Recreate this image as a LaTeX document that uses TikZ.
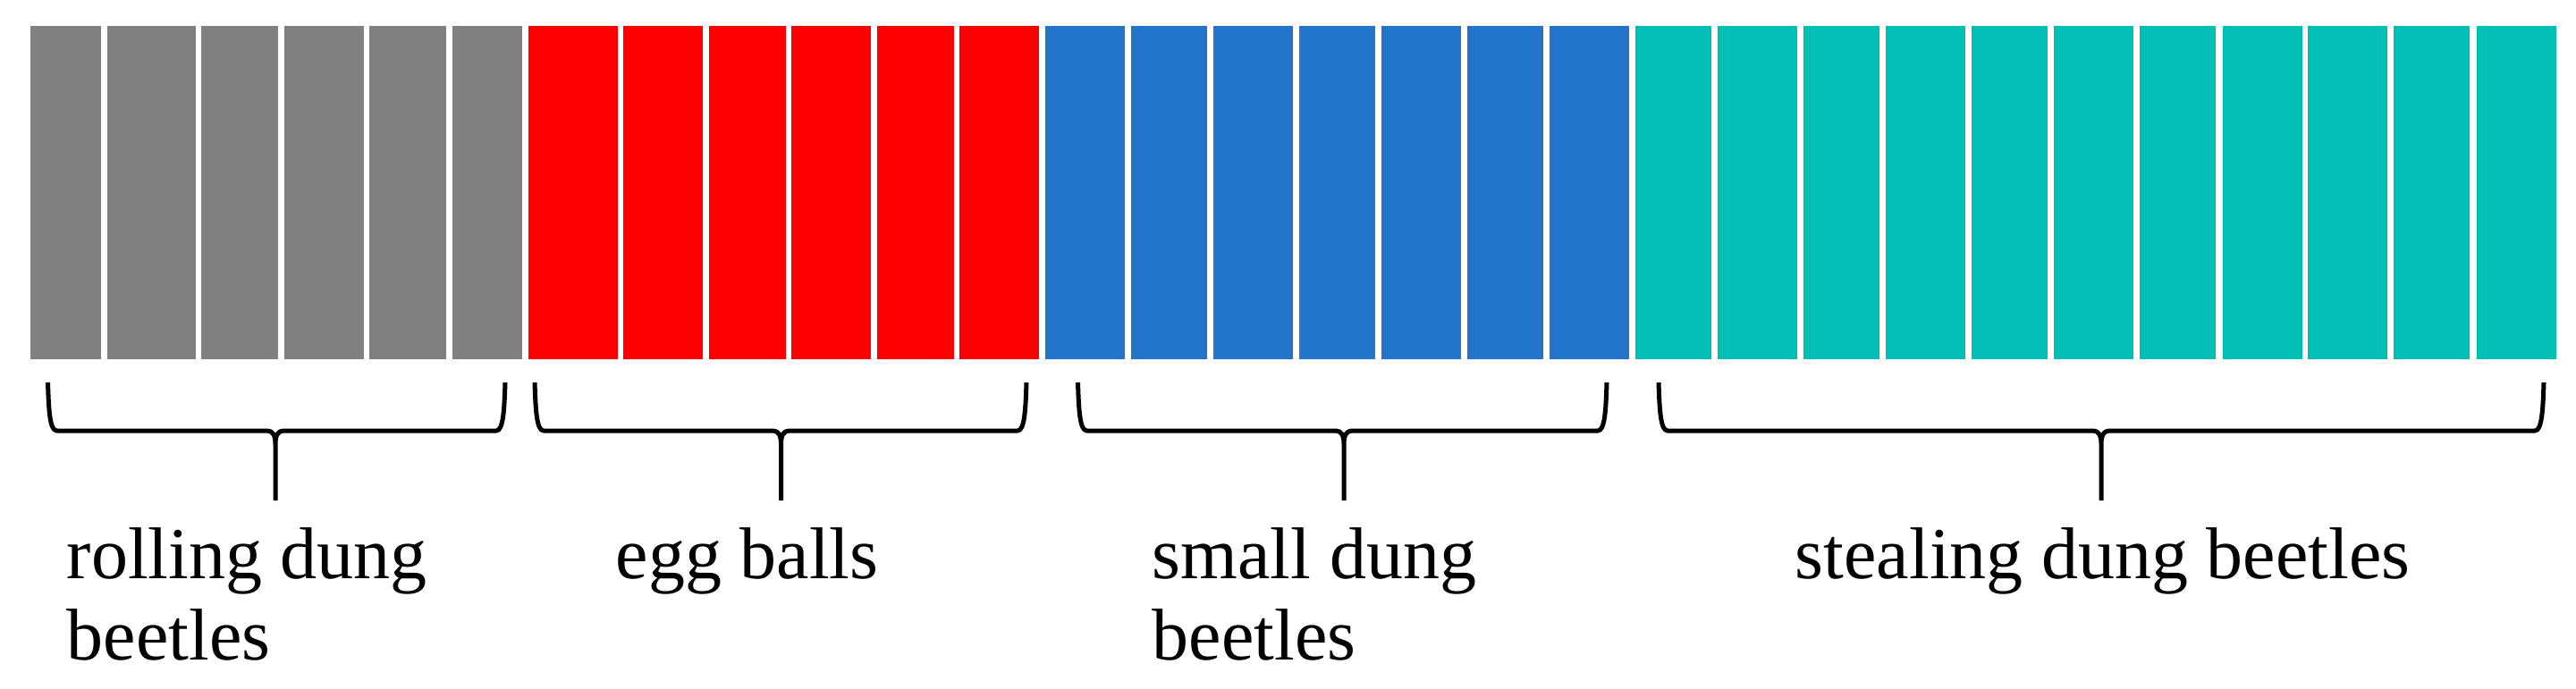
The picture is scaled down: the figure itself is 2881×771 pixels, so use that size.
\documentclass[tikz,border=0pt]{standalone}
\usepackage{fontspec}
\setmainfont{Liberation Serif}
\definecolor{bgray}{RGB}{128,128,128}
\definecolor{bred}{RGB}{255,0,0}
\definecolor{bblue}{RGB}{35,117,204}
\definecolor{bteal}{RGB}{0,192,182}
\tikzset{
  brc/.style={line width=1.25pt, black, line join=round},
  lbl/.style={anchor=north west, inner sep=0pt, align=left, font=\fontsize{20.5pt}{22.75pt}\selectfont}
}
\newcommand{\barcell}[3]{\fill[#1] (#2,29) rectangle (#3,402);}
\newcommand{\mybrace}[3]{%
  \draw[brc] (#1,428) .. controls (#1+1,458) and (#1+2,482) .. (#1+10,482) -- (#2-9,482)
     .. controls (#2-3,482) and (#2,487) .. (#2,497) -- (#2,560)
     (#3,428) .. controls (#3-1,458) and (#3-2,482) .. (#3-10,482) -- (#2+9,482)
     .. controls (#2+3,482) and (#2,487) .. (#2,497);}
\begin{document}
\begin{tikzpicture}[x=0.25pt,y=-0.25pt]
\useasboundingbox (0,0) rectangle (2881,771);
% gray
\barcell{bgray}{34}{112.5}
\barcell{bgray}{119.6}{218.8}
\barcell{bgray}{225.4}{311.2}
\barcell{bgray}{317.9}{406.7}
\barcell{bgray}{413.4}{499.1}
\barcell{bgray}{505.8}{584}
% red
\barcell{bred}{591}{690.6}
\barcell{bred}{697.3}{786.2}
\barcell{bred}{792.9}{878.6}
\barcell{bred}{885.3}{974.1}
\barcell{bred}{980.8}{1066.5}
\barcell{bred}{1073.2}{1162.1}
% blue
\barcell{bblue}{1169.2}{1258}
\barcell{bblue}{1264.7}{1350}
\barcell{bblue}{1357.1}{1446}
\barcell{bblue}{1452.7}{1538}
\barcell{bblue}{1545.1}{1634}
\barcell{bblue}{1641}{1726}
\barcell{bblue}{1733}{1822}
% teal
\barcell{bteal}{1829}{1913.8}
\barcell{bteal}{1921.4}{2010.3}
\barcell{bteal}{2017.2}{2102}
\barcell{bteal}{2109}{2198}
\barcell{bteal}{2204.8}{2290.3}
\barcell{bteal}{2297.2}{2386.2}
\barcell{bteal}{2393.1}{2478}
\barcell{bteal}{2485.5}{2574.5}
\barcell{bteal}{2581.4}{2670.3}
\barcell{bteal}{2677.2}{2762}
\barcell{bteal}{2769.7}{2858.6}
% braces
\mybrace{53.5}{308}{565}
\mybrace{598}{873.5}{1148}
\mybrace{1205.5}{1503}{1797}
\mybrace{1855}{2350}{2845}
% labels
\node[lbl] (t1) at (74,590) {rolling dung\\beetles};
\node[lbl] (t2) at (688,590) {egg balls};
\node[lbl] (t3) at (1288,590) {small dung\\beetles};
\node[lbl] (t4) at (2007,590) {stealing dung beetles};
\end{tikzpicture}
\end{document}
